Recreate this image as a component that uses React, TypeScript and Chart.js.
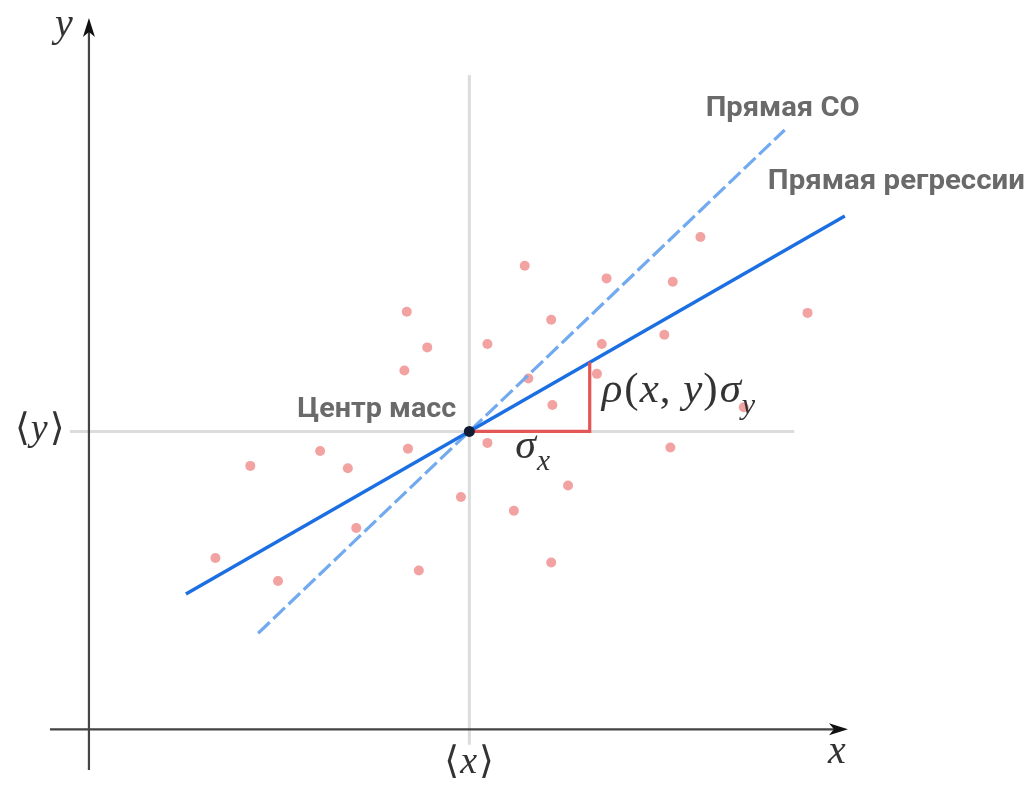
import React, { useEffect, useRef } from "react";
import { Chart, registerables } from "chart.js";

Chart.register(...registerables);

// Standardised sample: mean at the origin, σx = σy = 1, correlation ρ
const meanX = 0;
const meanY = 0;
const sigmaX = 1;
const sigmaY = 1;
const rho = 0.6;

// Observations (in units of σ)
const sampleX = [
  -2.11, -1.82, -1.59, -1.24, -1.01, -0.94, -0.52, -0.35, -0.54, -0.51,
  -0.42, -0.07, 0.15, 0.15, 0.46, 0.37, 0.49, 0.68, 0.69, 0.82,
  0.68, 1.1, 1.06, 1.14, 1.62, 1.69, 1.67, 1.92, 2.28, 2.81,
];
const sampleY = [
  -1.1, -0.3, -1.3, -0.17, -0.32, -0.84, 1.04, 0.73, 0.53, -0.15,
  -1.21, -0.57, -0.1, 0.76, 1.44, -0.69, 0.46, 0.97, 0.23, -0.47,
  -1.14, 0.76, 0.5, 1.33, 0.84, 1.3, -0.14, 1.69, 0.21, 1.03,
];

// Extents of the two drawn lines (x range)
const regressionRange = [-2.355, 3.12];
const sdLineRange = [-1.755, 2.62];

// Axis and guide extents
const axisXPos = -2.59; // y value where the x axis sits
const axisYPos = -3.161; // x value where the y axis sits
const axisXRange = [-3.485, 3.146];
const axisYRange = [-2.943, 3.594];
const guideVRange = [-2.725, 3.097];
const guideHRange = [-3.319, 2.7];

// Plot window
const xLimits = [-3.9, 4.7];
const yLimits = [-3.1, 3.75];

const labelGray = "#6a6a6a";
const mathFont = '"Liberation Serif", "DejaVu Serif", serif';
const boldFont = 'Roboto, "Noto Sans", sans-serif';

type Run = { t: string; italic?: boolean; sub?: boolean; gap?: number };

function drawRuns(ctx: CanvasRenderingContext2D, runs: Run[], x: number, y: number, size: number) {
  let cx = x;
  for (const r of runs) {
    const fs = r.sub ? size * 0.7 : size;
    ctx.font = `${r.italic ? "italic " : ""}${fs}px ${mathFont}`;
    const dy = r.sub ? size * 0.28 : 0;
    ctx.fillText(r.t, cx, y + dy);
    cx += ctx.measureText(r.t).width + (r.gap ?? 0);
  }
}

function drawFitText(ctx: CanvasRenderingContext2D, text: string, left: number, baseline: number, width: number, size: number) {
  ctx.save();
  ctx.font = `bold ${size}px ${boldFont}`;
  const w = ctx.measureText(text).width;
  ctx.translate(left, baseline);
  ctx.scale(width / w, 1);
  ctx.textAlign = "left";
  ctx.fillText(text, 0, 0);
  ctx.restore();
}

function arrowHead(ctx: CanvasRenderingContext2D, tipX: number, tipY: number, dirX: number, dirY: number) {
  const len = 19;
  const half = 6;
  const notch = 5;
  const px = -dirY;
  const py = dirX;
  const bx = tipX - dirX * len;
  const by = tipY - dirY * len;
  ctx.beginPath();
  ctx.moveTo(tipX, tipY);
  ctx.lineTo(bx + px * half, by + py * half);
  ctx.lineTo(bx + dirX * notch, by + dirY * notch);
  ctx.lineTo(bx - px * half, by - py * half);
  ctx.closePath();
  ctx.fillStyle = "#111";
  ctx.fill();
}

const diagramPlugin = {
  id: "diagram",
  beforeDatasetsDraw(chart: any) {
    const ctx: CanvasRenderingContext2D = chart.ctx;
    const xs = chart.scales.x;
    const ys = chart.scales.y;
    const X = (v: number) => xs.getPixelForValue(v);
    const Y = (v: number) => ys.getPixelForValue(v);
    ctx.save();
    // guide lines through the centre of mass
    ctx.strokeStyle = "#dcdcdc";
    ctx.lineWidth = 3;
    ctx.beginPath();
    ctx.moveTo(X(meanX), Y(guideVRange[0]));
    ctx.lineTo(X(meanX), Y(guideVRange[1]));
    ctx.moveTo(X(guideHRange[0]), Y(meanY));
    ctx.lineTo(X(guideHRange[1]), Y(meanY));
    ctx.stroke();

    // coordinate axes
    ctx.strokeStyle = "#444";
    ctx.lineWidth = 2.2;
    ctx.beginPath();
    ctx.moveTo(X(axisXRange[0]), Y(axisXPos));
    ctx.lineTo(X(axisXRange[1]) - 8, Y(axisXPos));
    ctx.moveTo(X(axisYPos), Y(axisYRange[0]));
    ctx.lineTo(X(axisYPos), Y(axisYRange[1]) + 8);
    ctx.stroke();
    arrowHead(ctx, X(axisXRange[1]), Y(axisXPos), 1, 0);
    arrowHead(ctx, X(axisYPos), Y(axisYRange[1]), 0, -1);
    ctx.restore();
  },
  afterDatasetsDraw(chart: any) {
    const ctx: CanvasRenderingContext2D = chart.ctx;
    const xs = chart.scales.x;
    const ys = chart.scales.y;
    const X = (v: number) => xs.getPixelForValue(v);
    const Y = (v: number) => ys.getPixelForValue(v);
    const cx = X(meanX);
    const cy = Y(meanY);
    ctx.save();
    ctx.textBaseline = "alphabetic";

    // bold annotations
    ctx.fillStyle = labelGray;
    drawFitText(ctx, "Центр масс", cx - 172, cy - 14, 159, 28);
    const sdEndX = X(sdLineRange[1]);
    const sdEndY = Y(meanY + (sigmaY / sigmaX) * (sdLineRange[1] - meanX));
    drawFitText(ctx, "Прямая СО", sdEndX - 79, sdEndY - 14, 154, 27);
    const rgEndX = X(regressionRange[1]);
    const rgEndY = Y(meanY + rho * (sigmaY / sigmaX) * (regressionRange[1] - meanX));
    drawFitText(ctx, "Прямая регрессии", rgEndX - 77, rgEndY - 27, 257, 27);

    // math labels
    ctx.fillStyle = "#333";
    drawRuns(ctx, [{ t: "y", italic: true }], X(axisYPos) - 34, Y(axisYRange[1]) + 18, 40);
    drawRuns(ctx, [{ t: "x", italic: true }], X(axisXRange[1]) - 20, Y(axisXPos) + 34, 40);
    drawRuns(ctx, [{ t: "⟨", gap: 1 }, { t: "y", italic: true, gap: 2 }, { t: "⟩" }], 15, cy + 9, 38);
    drawRuns(ctx, [{ t: "⟨", gap: 1 }, { t: "x", italic: true, gap: 2 }, { t: "⟩" }], cx - 25, Y(axisXPos) + 44, 38);

    const legX = X(meanX + sigmaX);
    drawRuns(ctx, [{ t: "σ", italic: true, gap: 1 }, { t: "x", italic: true, sub: true }], cx + 46, cy + 27, 42);
    drawRuns(
      ctx,
      [
        { t: "ρ", italic: true, gap: 2 },
        { t: "(", gap: 1 },
        { t: "x", italic: true, gap: 1 },
        { t: ", ", gap: 2 },
        { t: "y", italic: true, gap: 1 },
        { t: ")", gap: 2 },
        { t: "σ", italic: true, gap: 1 },
        { t: "y", italic: true, sub: true },
      ],
      legX + 12,
      cy - 29,
      43
    );
    ctx.restore();
  },
};

export default function App() {
  const canvasRef = useRef<HTMLCanvasElement | null>(null);

  useEffect(() => {
    if (!canvasRef.current) return;
    const points = sampleX.map((x, i) => ({ x, y: sampleY[i] }));
    const slope = rho * (sigmaY / sigmaX);
    const regression = regressionRange.map((x) => ({ x, y: meanY + slope * (x - meanX) }));
    const sdLine = sdLineRange.map((x) => ({ x, y: meanY + (sigmaY / sigmaX) * (x - meanX) }));
    const triangle = [
      { x: meanX, y: meanY },
      { x: meanX + sigmaX, y: meanY },
      { x: meanX + sigmaX, y: meanY + rho * sigmaY },
    ];

    const chart = new Chart(canvasRef.current, {
      type: "scatter",
      data: {
        datasets: [
          {
            label: "Центр масс",
            data: [{ x: meanX, y: meanY }],
            backgroundColor: "#101a33",
            borderWidth: 0,
            pointRadius: 5.5,
            order: 0,
          },
          {
            label: "σ",
            data: triangle,
            showLine: true,
            borderColor: "#e25656",
            borderWidth: 3.2,
            pointRadius: 0,
            order: 1,
          },
          {
            label: "Прямая регрессии",
            data: regression,
            showLine: true,
            borderColor: "#1b6fe2",
            borderWidth: 3.4,
            pointRadius: 0,
            order: 2,
          },
          {
            label: "Прямая СО",
            data: sdLine,
            showLine: true,
            borderColor: "#72aaf0",
            borderWidth: 3.2,
            borderDash: [16, 5],
            pointRadius: 0,
            order: 3,
          },
          {
            label: "Наблюдения",
            data: points,
            backgroundColor: "rgba(238,126,126,0.72)",
            borderWidth: 0,
            pointRadius: 5,
            order: 4,
          },
        ],
      },
      options: {
        responsive: false,
        animation: false,
        devicePixelRatio: 1,
        layout: { padding: 0, autoPadding: false },
        plugins: { legend: { display: false }, tooltip: { enabled: false } },
        scales: {
          x: { type: "linear", display: false, min: xLimits[0], max: xLimits[1] },
          y: { type: "linear", display: false, min: yLimits[0], max: yLimits[1] },
        },
      },
      plugins: [diagramPlugin],
    });
    return () => chart.destroy();
  }, []);

  return (
    <div style={{ position: "absolute", left: 0, top: 0, width: 1035, height: 788, background: "#fff" }}>
      <canvas ref={canvasRef} width={1035} height={788} />
    </div>
  );
}
